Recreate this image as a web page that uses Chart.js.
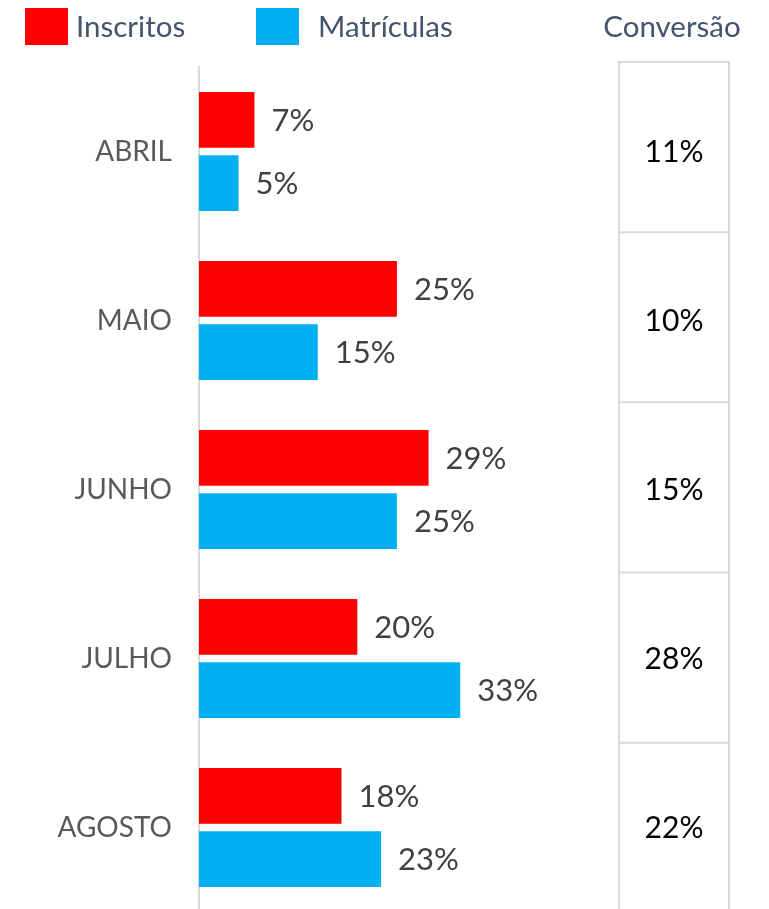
<!DOCTYPE html>
<html lang="pt">
<head>
<meta charset="utf-8">
<title>Inscritos x Matrículas</title>
<script src="https://cdn.jsdelivr.net/npm/chart.js@4.4.1/dist/chart.umd.min.js"></script>
<style>
    html, body { margin: 0; padding: 0; background: #fff; overflow: hidden; }
    canvas { display: block; }
</style>
</head>
<body>
<canvas id="chart" width="769" height="912"></canvas>
<script>
// dados
const meses = ['ABRIL', 'MAIO', 'JUNHO', 'JULHO', 'AGOSTO'];
const inscritos = [7, 25, 29, 20, 18];
const matriculas = [5, 15, 25, 33, 23];
const conversao = [11, 10, 15, 28, 22];

const FONTE = 'Lato, "Open Sans", sans-serif';
const VERMELHO = '#ff0000';
const AZUL = '#00b0f0';
const LINHA = '#d9d9d9';

// rótulos de valor ao lado das barras
const rotulosPlugin = {
    id: 'rotulos',
    afterDatasetsDraw(chart) {
        const ctx = chart.ctx;
        ctx.save();
        ctx.font = '31px ' + FONTE;
        ctx.fillStyle = '#404040';
        ctx.textAlign = 'left';
        ctx.textBaseline = 'middle';
        chart.data.datasets.forEach(function(ds, i) {
            chart.getDatasetMeta(i).data.forEach(function(bar, j) {
                ctx.fillText(ds.data[j] + '%', bar.x + 17, bar.y + 1);
            });
        });
        ctx.restore();
    }
};

// legenda e coluna de conversão
const extrasPlugin = {
    id: 'extras',
    afterDraw(chart) {
        const ctx = chart.ctx;
        const y = chart.scales.y;
        ctx.save();

        // legenda
        ctx.textBaseline = 'middle';
        ctx.fillStyle = VERMELHO;
        ctx.fillRect(25, 8, 43, 37);
        ctx.fillStyle = AZUL;
        ctx.fillRect(256, 8, 43, 37);
        ctx.font = '29.5px ' + FONTE;
        ctx.fillStyle = '#44546a';
        ctx.textAlign = 'left';
        ctx.fillText('Inscritos', 76, 27);
        ctx.fillText('Matrículas', 318, 27);
        ctx.textAlign = 'center';
        ctx.fillText('Conversão', 672, 27);

        // tabela de conversão (a última linha sai do quadro)
        const x0 = 619, x1 = 729;
        const passo = (y.getPixelForValue(1) - y.getPixelForValue(0)) * 1.007;
        const topo0 = chart.chartArea.top - 5;
        ctx.strokeStyle = LINHA;
        ctx.lineWidth = 2;
        ctx.beginPath();
        ctx.moveTo(x0, topo0);
        ctx.lineTo(x0, chart.height);
        ctx.moveTo(x1, topo0);
        ctx.lineTo(x1, chart.height);
        conversao.forEach(function(v, i) {
            const yy = topo0 + i * passo;
            ctx.moveTo(x0 - 1, yy);
            ctx.lineTo(x1 + 1, yy);
        });
        ctx.stroke();

        ctx.font = '30px ' + FONTE;
        ctx.fillStyle = '#000';
        conversao.forEach(function(v, i) {
            ctx.fillText(v + '%', (x0 + x1) / 2, y.getPixelForValue(i) + 1);
        });
        ctx.restore();
    }
};

new Chart(document.getElementById('chart'), {
    type: 'bar',
    data: {
        labels: meses,
        datasets: [
            { label: 'Inscritos', data: inscritos, backgroundColor: VERMELHO },
            { label: 'Matrículas', data: matriculas, backgroundColor: AZUL }
        ]
    },
    options: {
        indexAxis: 'y',
        responsive: false,
        animation: false,
        categoryPercentage: 0.75,
        barPercentage: 0.88,
        layout: { padding: { top: 67, right: 190, bottom: 0, left: 0 } },
        plugins: {
            legend: { display: false },
            tooltip: { enabled: false }
        },
        scales: {
            x: {
                display: false,
                min: 0,
                max: 48
            },
            y: {
                afterFit: function(scale) {
                    scale.width = 199;
                    scale.paddingTop = 0;
                    scale.paddingBottom = 0;
                },
                grid: { display: false, drawTicks: false },
                border: { display: true, color: LINHA, width: 2 },
                ticks: {
                    padding: 27,
                    color: '#595959',
                    font: { family: FONTE, size: 28 }
                }
            }
        }
    },
    plugins: [rotulosPlugin, extrasPlugin]
});
</script>
</body>
</html>
